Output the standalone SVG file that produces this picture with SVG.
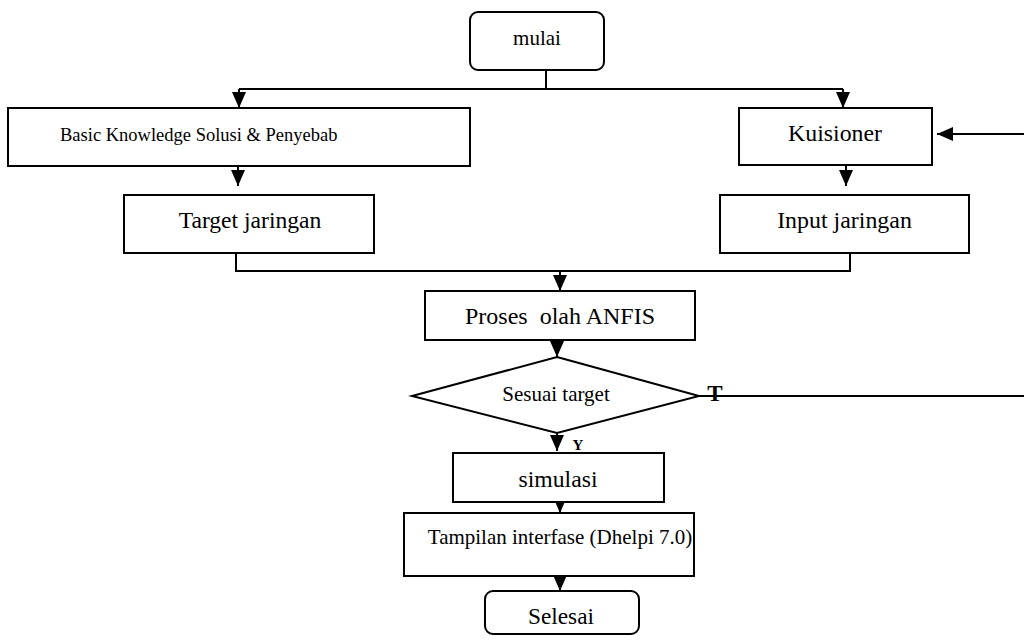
<svg xmlns="http://www.w3.org/2000/svg" width="1024" height="644" viewBox="0 0 1024 644">
<style>
.box{fill:#fff;stroke:#000;stroke-width:2}
.ln{fill:none;stroke:#000;stroke-width:2}
.t{font-family:"Liberation Serif","Times New Roman",serif;fill:#000;text-anchor:middle}
.b{font-weight:bold}
</style>
<defs>
<marker id="ah" markerUnits="userSpaceOnUse" markerWidth="16" markerHeight="14" refX="16" refY="7" orient="auto">
<path d="M0,0 L16,7 L0,14 z" fill="#000"/>
</marker>
</defs>
<rect width="1024" height="644" fill="#fff"/>
<g id="connectors">
<path class="ln" d="M546,70 V89"/>
<path class="ln" d="M239,89 H843"/>
<path class="ln" d="M239,89 V108" marker-end="url(#ah)"/>
<path class="ln" d="M843,89 V108" marker-end="url(#ah)"/>
<path class="ln" d="M238,166 V186" marker-end="url(#ah)"/>
<path class="ln" d="M846,165 V186" marker-end="url(#ah)"/>
<path class="ln" d="M1024,134 H937" marker-end="url(#ah)"/>
<path class="ln" d="M236,253 V271 H850 V253"/>
<path class="ln" d="M560,271 V291" marker-end="url(#ah)"/>
<path class="ln" d="M557,340 V357" marker-end="url(#ah)"/>
<path class="ln" d="M557,433 V451" marker-end="url(#ah)"/>
<path class="ln" d="M560,502 V513" marker-end="url(#ah)"/>
<path class="ln" d="M560,576 V591" marker-end="url(#ah)"/>
<path class="ln" d="M699,396 H1024"/>
<text class="t b" x="715" y="401" font-size="23">T</text>
<text class="t b" x="578" y="450" font-size="15">Y</text>
</g>
<g id="mulai">
<rect class="box" x="470" y="12" width="134" height="58" rx="8"/>
<text class="t" x="537" y="45" font-size="21">mulai</text>
</g>
<g id="basic">
<rect class="box" x="8" y="108" width="462" height="58"/>
<text class="t" x="60" y="141" font-size="18.5" style="text-anchor:start">Basic Knowledge Solusi &amp; Penyebab</text>
</g>
<g id="kuisioner">
<rect class="box" x="739" y="108" width="193" height="57"/>
<text class="t" x="835" y="141" font-size="23.8">Kuisioner</text>
</g>
<g id="target">
<rect class="box" x="124" y="195" width="250" height="58"/>
<text class="t" x="250" y="228" font-size="23.6">Target jaringan</text>
</g>
<g id="input">
<rect class="box" x="720" y="195" width="249" height="58"/>
<text class="t" x="844.5" y="228" font-size="23.9">Input jaringan</text>
</g>
<g id="proses">
<rect class="box" x="425" y="291" width="270" height="49"/>
<text class="t" x="560" y="324" font-size="24" xml:space="preserve">Proses  olah ANFIS</text>
</g>
<g id="sesuai">
<polygon class="box" points="557,357 699,396 557,433 412,396"/>
<text class="t" x="556" y="401" font-size="21">Sesuai target</text>
</g>
<g id="simulasi">
<rect class="box" x="453" y="453" width="211" height="49"/>
<text class="t" x="558" y="487" font-size="23.7">simulasi</text>
</g>
<g id="tampilan">
<rect class="box" x="404" y="513" width="290" height="63"/>
<text class="t" x="560" y="544" font-size="21">Tampilan interfase (Dhelpi 7.0)</text>
</g>
<g id="selesai">
<rect class="box" x="485" y="591" width="154" height="43" rx="8"/>
<text class="t" x="561" y="624" font-size="23.3">Selesai</text>
</g>
</svg>
